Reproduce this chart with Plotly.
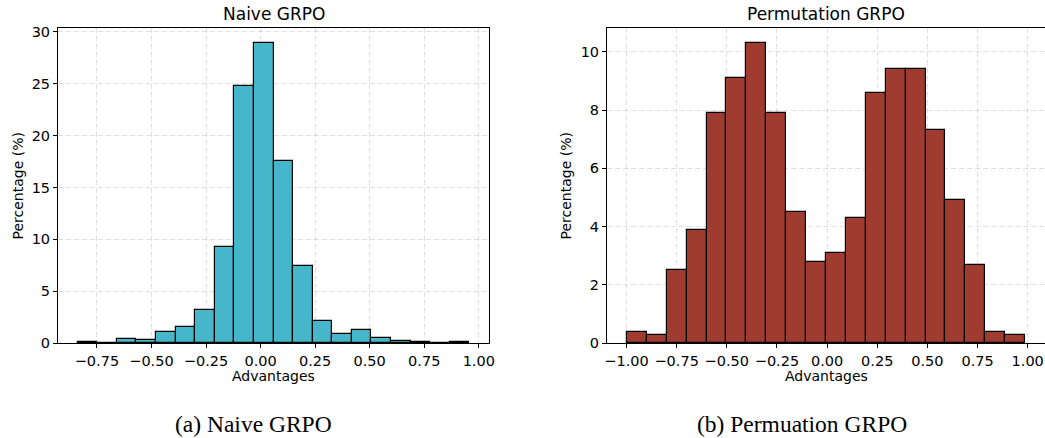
import numpy as np
import plotly.graph_objects as go

# ---------------- data ----------------
naive_min, naive_max, n_bins = -0.8385, 0.957, 20
naive_pct = [0.1, 0.0, 0.45, 0.35, 1.05, 1.6, 3.2, 9.3, 24.8, 28.9,
             17.5, 7.4, 2.15, 0.85, 1.3, 0.52, 0.22, 0.16, 0.0, 0.1]

perm_min, perm_max = -0.998, 0.987
perm_pct = [0.4, 0.3, 2.5, 3.9, 7.9, 9.1, 10.3, 7.9, 4.5, 2.8,
            3.1, 4.3, 8.6, 9.4, 9.4, 7.3, 4.9, 2.7, 0.4, 0.3]

naive_xticks = [-0.75, -0.5, -0.25, 0.0, 0.25, 0.5, 0.75, 1.0]
perm_xticks = [-1.0, -0.75, -0.5, -0.25, 0.0, 0.25, 0.5, 0.75, 1.0]
naive_yticks = [0, 5, 10, 15, 20, 25, 30]
perm_yticks = [0, 2, 4, 6, 8, 10]

titles = ["Naive GRPO", "Permutation GRPO"]
captions = ["(a) Naive GRPO", "(b) Permuation GRPO"]
xlabel = "Advantages"
ylabel = "Percentage (%)"

# ---------------- styling ----------------
W, H = 1045, 438
teal = "#46B6CA"
brown = "#A03B30"
FONT = "DejaVu Sans"


def fmt(v):
    s = f"{abs(v):.2f}"
    return ("\u2212" + s) if v < 0 else s


fig = go.Figure()

n_edges = np.linspace(naive_min, naive_max, n_bins + 1)
p_edges = np.linspace(perm_min, perm_max, n_bins + 1)

fig.add_trace(go.Bar(
    x=n_edges[:-1], y=naive_pct, width=np.diff(n_edges), offset=0,
    marker=dict(color=teal, line=dict(color="black", width=1.2)),
    xaxis="x", yaxis="y", showlegend=False))
fig.add_trace(go.Bar(
    x=p_edges[:-1], y=perm_pct, width=np.diff(p_edges), offset=0,
    marker=dict(color=brown, line=dict(color="black", width=1.2)),
    xaxis="x2", yaxis="y2", showlegend=False))


def px_x(p):
    return p / W


def px_y(p):
    return 1 - p / H


y_dom = [px_y(343.3), px_y(28)]

common_axis = dict(
    showline=True, linecolor="black", linewidth=1, mirror=True,
    ticks="outside", ticklen=4, tickwidth=1, tickcolor="black",
    showgrid=True, gridcolor="rgba(0,0,0,0.12)", griddash="5px,3px", gridwidth=1,
    zeroline=False, automargin=False,
    tickfont=dict(family=FONT, size=14.5, color="black"),
)

nr = (n_edges[-1] - n_edges[0]) * 0.05
pr = (p_edges[-1] - p_edges[0]) * 0.05

fig.update_layout(
    width=W, height=H,
    margin=dict(l=0, r=0, t=0, b=0, autoexpand=False),
    paper_bgcolor="white", plot_bgcolor="white",
    bargap=0,
    xaxis=dict(domain=[px_x(58), px_x(489)], anchor="y",
               range=[n_edges[0] - nr, n_edges[-1] + nr],
               tickvals=naive_xticks, ticktext=[fmt(v) for v in naive_xticks],
               **common_axis),
    yaxis=dict(domain=y_dom, anchor="x",
               range=[0, max(naive_pct) * 1.05],
               tickvals=naive_yticks, ticktext=[str(v) for v in naive_yticks],
               **common_axis),
    xaxis2=dict(domain=[px_x(607), 1.0], anchor="y2",
                range=[p_edges[0] - pr, p_edges[-1] + pr],
                tickvals=perm_xticks, ticktext=[fmt(v) for v in perm_xticks],
                **common_axis),
    yaxis2=dict(domain=y_dom, anchor="x2",
                range=[0, max(perm_pct) * 1.05],
                tickvals=perm_yticks, ticktext=[str(v) for v in perm_yticks],
                **common_axis),
)

ann = []
centers = [(58 + 489) / 2, (607 + 1045) / 2]
for i, cx in enumerate(centers):
    ann.append(dict(text=titles[i], x=px_x(cx), y=px_y(13.5), xref="paper", yref="paper",
                    xanchor="center", yanchor="middle", showarrow=False,
                    font=dict(family=FONT, size=17, color="black")))
    ann.append(dict(text=xlabel, x=px_x(cx), y=px_y(376), xref="paper", yref="paper",
                    xanchor="center", yanchor="middle", showarrow=False,
                    font=dict(family=FONT, size=14, color="black")))
ylab_x = [17.5, 565.5]
for xx in ylab_x:
    ann.append(dict(text=ylabel, x=px_x(xx), y=px_y(186), xref="paper", yref="paper",
                    xanchor="center", yanchor="middle", textangle=-90, showarrow=False,
                    font=dict(family=FONT, size=14, color="black")))
cap_x = [253, 802]
for i, cx in enumerate(cap_x):
    ann.append(dict(text=captions[i], x=px_x(cx), y=px_y(424), xref="paper", yref="paper",
                    xanchor="center", yanchor="middle", showarrow=False,
                    font=dict(family="Liberation Serif", size=23.5, color="black")))
fig.update_layout(annotations=ann)

fig.write_html("out.html", config={"displayModeBar": False},
               post_script="document.body.style.margin='0';document.body.style.overflow='hidden';")
